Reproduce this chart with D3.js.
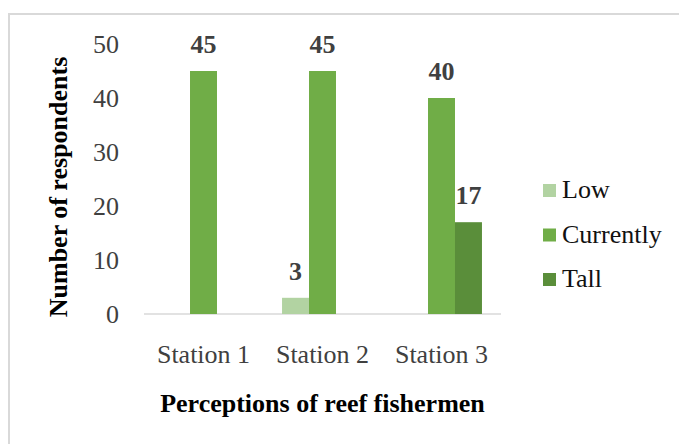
<!DOCTYPE html>
<html><head><meta charset="utf-8">
<script src="https://cdn.jsdelivr.net/npm/d3@7"></script>
<style>body{margin:0;background:#fff}svg{display:block}text{font-family:"Liberation Serif","Times New Roman",serif}</style>
</head><body><svg id="c" width="679" height="444"></svg>
<script>
const categories = ["Station 1", "Station 2", "Station 3"];
const seriesNames = ["Low", "Currently", "Tall"];
const lowValues = [null, 3, null];
const currentlyValues = [45, 45, 40];
const tallValues = [null, null, 17];
const yTicks = [0, 10, 20, 30, 40, 50];
const colors = ["#b2d3a2", "#70ad47", "#5a8e3a"];

const seriesValues = [lowValues, currentlyValues, tallValues];
const svg = d3.select("#c");

svg.append("rect").attr("x", 9).attr("y", 14).attr("width", 700).attr("height", 460)
  .attr("fill", "none").attr("stroke", "#d9d9d9").attr("stroke-width", 2);

const x0 = d3.scaleBand().domain(categories).range([144, 501]).paddingInner(0.32).paddingOuter(0.16);
const x1 = d3.scaleBand().domain(seriesNames).range([0, x0.bandwidth()]);
const y = d3.scaleLinear().domain([0, 50]).range([314, 44]);

// y axis labels
const yAxis = d3.axisLeft(y).tickValues(yTicks).tickSize(0).tickPadding(0);
const ya = svg.append("g").attr("transform", "translate(119,0)").call(yAxis);
ya.select(".domain").remove();
ya.selectAll("text").attr("font-size", 26).attr("fill", "#404040")
  .style("font-family", '"Liberation Serif",serif');

// baseline
const xAxis = d3.axisBottom(x0).tickSize(0).tickPadding(0);
const xa = svg.append("g").attr("transform", "translate(0,314)").call(xAxis);
xa.select(".domain").attr("stroke", "#d9d9d9").attr("stroke-width", 1.5)
  .attr("d", "M144,0H501");
xa.selectAll("text").attr("font-size", 26).attr("fill", "#404040").attr("dy", 0).attr("y", 49)
  .style("font-family", '"Liberation Serif",serif');

// bars
const data = [];
categories.forEach((c, i) => seriesNames.forEach((s, j) => {
  const v = seriesValues[j][i];
  if (v != null) data.push({c, s, v, j});
}));
svg.append("g").selectAll("rect").data(data).join("rect")
  .attr("x", d => x0(d.c) + x1(d.s))
  .attr("y", d => y(d.v))
  .attr("width", x1.bandwidth())
  .attr("height", d => y(0) - y(d.v))
  .attr("fill", d => colors[d.j]);

svg.append("g").selectAll("text").data(data).join("text")
  .attr("x", d => x0(d.c) + x1(d.s) + x1.bandwidth() / 2)
  .attr("y", d => y(d.v) - 18)
  .attr("text-anchor", "middle")
  .attr("font-size", 26).attr("font-weight", "bold").attr("fill", "#404040")
  .text(d => d.v);

// axis titles
svg.append("text").attr("x", 322.5).attr("y", 412).attr("text-anchor", "middle")
  .attr("font-size", 26).attr("font-weight", "bold").attr("fill", "#000")
  .text("Perceptions of reef fishermen");
svg.append("text").attr("transform", "translate(67,187) rotate(-90)").attr("text-anchor", "middle")
  .attr("font-size", 26).attr("font-weight", "bold").attr("fill", "#000")
  .text("Number of respondents");

// legend
const lg = svg.append("g").selectAll("g").data(seriesNames).join("g")
  .attr("transform", (d, i) => `translate(543,${198 + i * 44.5})`);
lg.append("rect").attr("x", 0).attr("y", -14).attr("width", 13).attr("height", 13)
  .attr("fill", (d, i) => colors[i]);
lg.append("text").attr("x", 19).attr("y", 0).attr("font-size", 26).attr("fill", "#111")
  .text(d => d);
</script></body></html>
